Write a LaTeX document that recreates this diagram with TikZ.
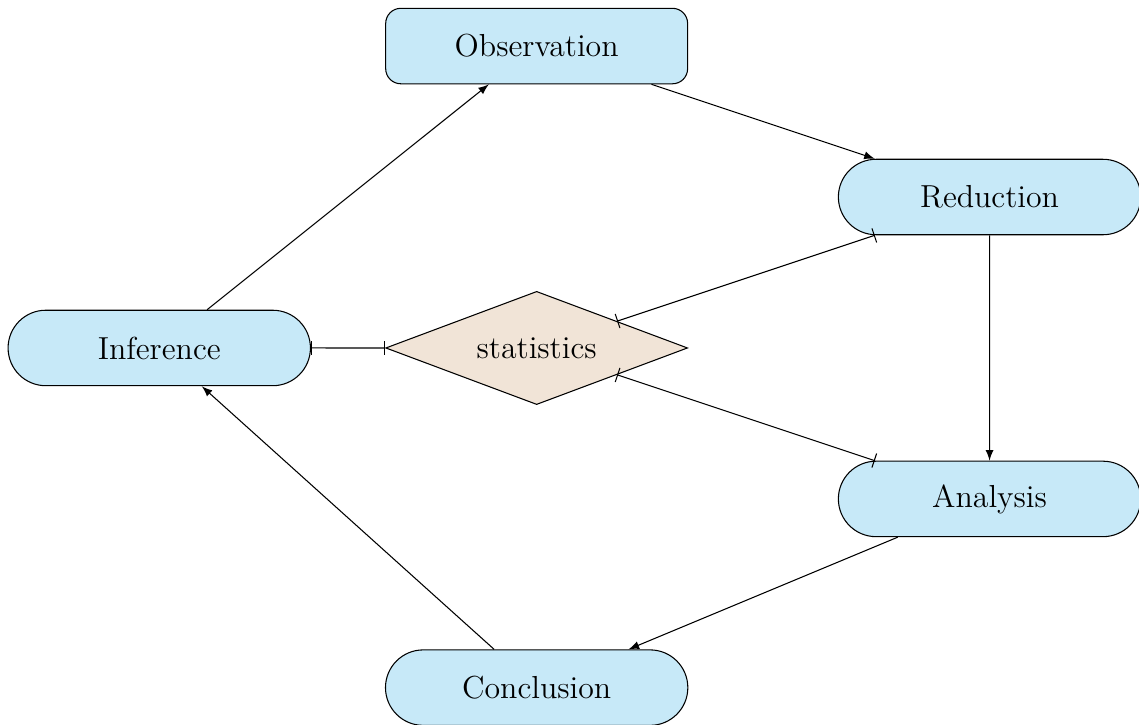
\documentclass[tikz,border=0pt]{standalone}
\usepackage{amsmath, amssymb}
\usetikzlibrary{shapes.misc, shapes.geometric, arrows}

\definecolor{pillblue}{RGB}{199,233,248}
\definecolor{statbeige}{RGB}{241,228,215}

\begin{document}
\begin{tikzpicture}[
    pill/.style={rounded rectangle, draw, fill=pillblue, minimum width=4.24cm, minimum height=1cm, font=\large},
    box/.style={rectangle, rounded corners=0.2cm, draw, fill=pillblue, minimum width=4cm, minimum height=1cm, font=\large},
    stat/.style={diamond, draw, fill=statbeige, minimum width=4cm, minimum height=1.5cm, inner sep=0pt, aspect=2.67, font=\large}
]
    \useasboundingbox (-7.11,-4.995) rectangle (7.98,4.61);

    % Define positions of the nodes
    \node[box] (obs) at (0, 4) {Observation};
    \node[pill] (red) at (6, 2) {Reduction};
    \node[pill] (ana) at (6, -2) {Analysis};
    \node[pill] (con) at (0, -4.5) {Conclusion};
    \node[pill] (inf) at (-5, 0) {Inference};
    \node[stat] (stats) at (0, 0) {statistics};

    % Draw the cycle
    \draw[-latex] (obs) -- (red);
    \draw[-latex] (red) -- (ana);
    \draw[-latex] (ana) -- (con);
    \draw[-latex] (con) -- (inf);
    \draw[-latex] (inf) -- (obs);

    % Links to the statistics node
    \draw[|-|] (inf) -- (stats);
    \draw[|-|] (stats) -- (red);
    \draw[|-|] (stats) -- (ana);
\end{tikzpicture}
\end{document}
